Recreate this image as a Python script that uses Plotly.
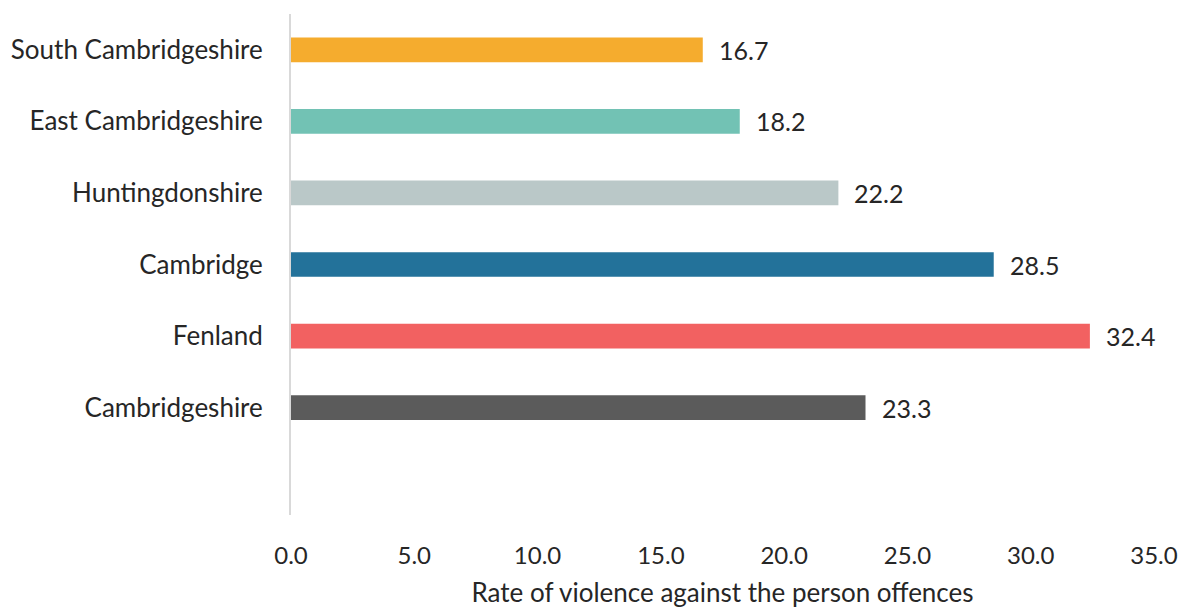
import plotly.graph_objects as go

categories = ["Cambridgeshire", "Fenland", "Cambridge", "Huntingdonshire",
              "East Cambridgeshire", "South Cambridgeshire"]
values = [23.3, 32.4, 28.5, 22.2, 18.2, 16.7]
colors = ["#5B5B5B", "#F26161", "#23729A", "#BAC8C8", "#72C2B4", "#F5AC2E"]
x_ticks = [0, 5, 10, 15, 20, 25, 30, 35]
x_title = "Rate of violence against the person offences"

FONT = "Lato, 'Open Sans', sans-serif"
TXT = "#262626"

fig = go.Figure(go.Bar(
    x=values, y=categories, orientation="h",
    marker=dict(color=colors, line=dict(width=0)),
    width=0.345, hoverinfo="skip",
))

for c, v in zip(categories, values):
    fig.add_annotation(x=v, y=c, text=f"{v:.1f}", showarrow=False,
                       xanchor="left", yanchor="middle", xshift=14,
                       font=dict(family=FONT, size=25, color=TXT))

fig.update_layout(
    width=1181, height=608,
    margin=dict(l=291, r=27, t=14, b=93),
    paper_bgcolor="white", plot_bgcolor="white",
    showlegend=False,
    font=dict(family=FONT, size=24, color=TXT),
    xaxis=dict(range=[0, 35], tickvals=x_ticks,
               ticktext=[f"{t:.1f}" for t in x_ticks],
               showgrid=False, zeroline=False, showline=False,
               ticks="", ticklabelstandoff=24, automargin=False,
               title=dict(text=x_title, standoff=19,
                          font=dict(family=FONT, size=26, color=TXT)),
               tickfont=dict(family=FONT, size=24, color=TXT)),
    yaxis=dict(type="category", categoryorder="array", categoryarray=categories,
               range=[-1.5, 5.5], showgrid=False, zeroline=False,
               showline=True, linecolor="#D9D9D9", linewidth=2,
               ticks="", ticklabelstandoff=21, automargin=False,
               tickfont=dict(family=FONT, size=26, color=TXT)),
)

fig.write_html("out.html")
